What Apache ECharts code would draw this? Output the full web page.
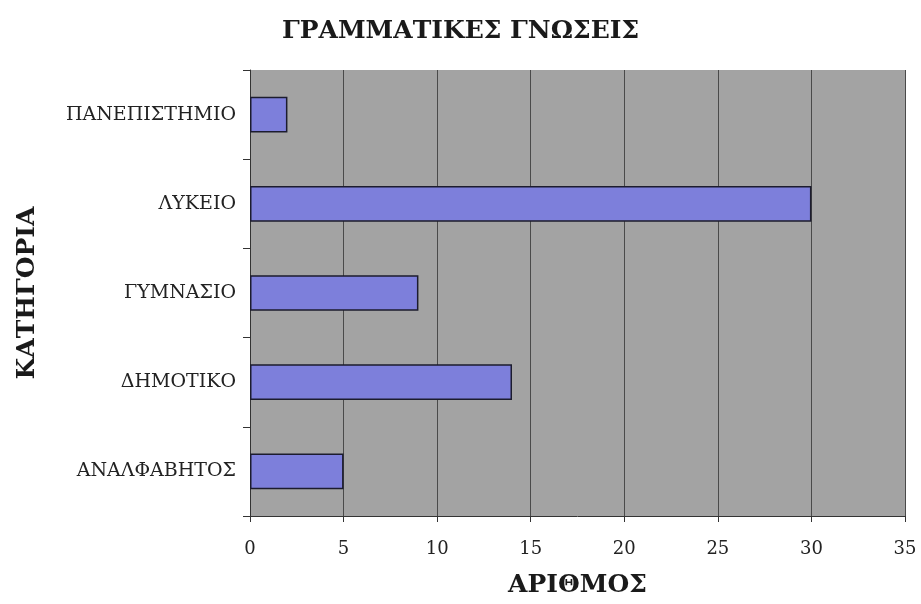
<!DOCTYPE html>
<html>
<head>
<meta charset="utf-8">
<script src="https://cdn.jsdelivr.net/npm/echarts@6/dist/echarts.min.js"></script>
<style>
  html, body { margin: 0; padding: 0; background: #fff; }
  #chart { width: 921px; height: 604px; }
</style>
</head>
<body>
<div id="chart"></div>
<script>
// categories bottom to top
var categories = ['ΑΝΑΛΦΑΒΗΤΟΣ', 'ΔΗΜΟΤΙΚΟ', 'ΓΥΜΝΑΣΙΟ', 'ΛΥΚΕΙΟ', 'ΠΑΝΕΠΙΣΤΗΜΙΟ'];
var counts = [5, 14, 9, 30, 2];
var xMin = 0, xMax = 35, xStep = 5;

var font = '"DejaVu Serif", "Liberation Serif", serif';
var chart = echarts.init(document.getElementById('chart'));
var option = {
    backgroundColor: '#ffffff',
    textStyle: { fontFamily: font },
    title: {
        text: 'ΓΡΑΜΜΑΤΙΚΕΣ ΓΝΩΣΕΙΣ',
        left: 'center',
        top: 14,
        textStyle: { fontFamily: font, fontSize: 25, fontWeight: 'bold', color: '#1a1a1a' }
    },
    grid: {
        left: 250,
        right: 16,
        top: 70,
        bottom: 88,
        outerBoundsMode: 'none',
        containLabel: false,
        show: true,
        backgroundColor: '#a3a3a3',
        borderWidth: 0
    },
    xAxis: {
        type: 'value',
        min: xMin,
        max: xMax,
        interval: xStep,
        name: 'ΑΡΙΘΜΟΣ',
        nameLocation: 'middle',
        nameGap: 57,
        nameTextStyle: { fontFamily: font, fontSize: 25, fontWeight: 'bold', color: '#1a1a1a' },
        axisLine: { show: true, lineStyle: { color: '#333', width: 1 } },
        axisTick: { show: true, length: 6, lineStyle: { color: '#333' } },
        axisLabel: { fontFamily: font, fontSize: 18, color: '#222', margin: 24 },
        splitLine: { show: true, lineStyle: { color: '#4a4a4a', width: 1 } }
    },
    yAxis: {
        type: 'category',
        data: categories,
        name: 'ΚΑΤΗΓΟΡΙΑ',
        nameLocation: 'middle',
        nameGap: 210,
        nameRotate: 90,
        nameTextStyle: { fontFamily: font, fontSize: 25, fontWeight: 'bold', color: '#1a1a1a' },
        axisLine: { show: true, lineStyle: { color: '#333', width: 1 } },
        axisTick: { show: true, length: 7, alignWithLabel: false, lineStyle: { color: '#333' } },
        axisLabel: { fontFamily: font, fontSize: 19, color: '#222', margin: 14 },
        splitLine: { show: false }
    },
    series: [{
        type: 'bar',
        data: counts,
        barWidth: '40%',
        itemStyle: {
            color: '#7d7fdb',
            borderColor: '#1c1c2e',
            borderWidth: 1.5
        }
    }]
};
chart.setOption(option);
</script>
</body>
</html>
